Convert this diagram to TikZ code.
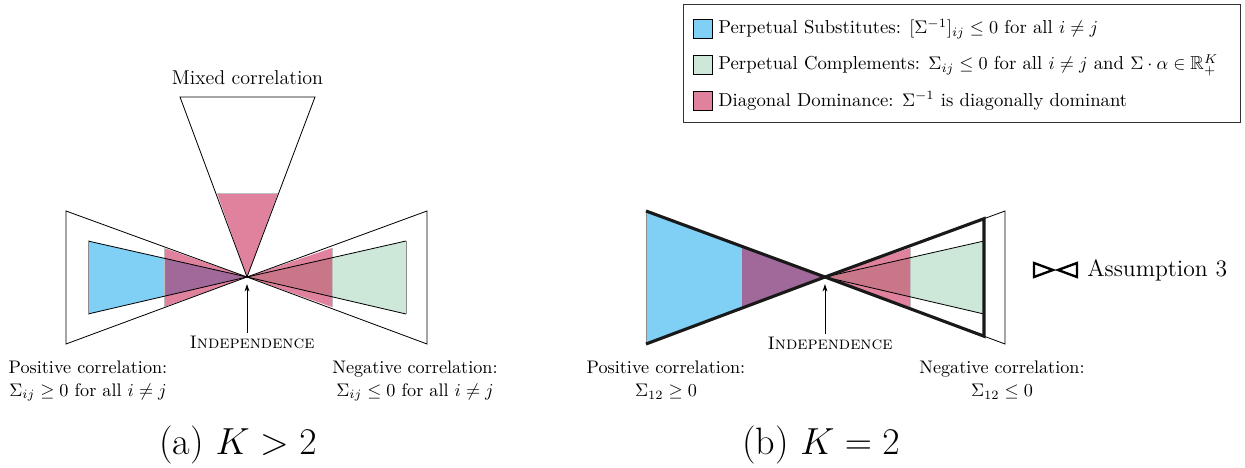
\documentclass[tikz,border=0pt]{standalone}
\usepackage{amssymb}
\usetikzlibrary{arrows.meta}
\definecolor{cblue}{RGB}{128,208,245}
\definecolor{cgreen}{RGB}{205,232,217}
\definecolor{cpink}{RGB}{224,130,157}
\definecolor{cpurple}{RGB}{160,105,154}
\definecolor{cmauve}{RGB}{201,118,137}
\tikzset{
  thinline/.style={draw=black,line width=0.45pt,line join=miter},
  thickline/.style={draw=black!90,line width=1.7pt,line join=miter},
  lbl/.style={align=center,inner sep=0pt,font=\fontsize{10}{12.5}\selectfont},
  biglbl/.style={align=center,inner sep=0pt,font=\fontsize{11}{13}\selectfont},
  captxt/.style={inner sep=0pt,font=\fontsize{21}{24}\selectfont},
  indarrow/.style={-{Stealth[length=4pt,width=2.6pt]},line width=0.45pt,shorten >=3.9pt,shorten <=1.5pt},
  legsq/.style={draw=black,line width=0.5pt,minimum width=10.5pt,minimum height=10.5pt,inner sep=0pt},
  legtxt/.style={anchor=west,inner sep=0pt,font=\fontsize{10.3}{12.5}\selectfont},
}
\begin{document}
\begin{tikzpicture}[x=0.55pt,y=-0.55pt]
\useasboundingbox (0,0) rectangle (1245,468);
% ================= Panel (a) =================
\coordinate (ca) at (247,277);
% fills
\fill[cblue] (88,241) -- (88,314) -- (ca) -- cycle;
\fill[cgreen] (406,241) -- (406,314) -- (ca) -- cycle;
\fill[cpink] (164,248) -- (164,307) -- (ca) -- cycle;
\fill[cpink] (332,248) -- (332,307) -- (ca) -- cycle;
\fill[cpink] (217,193) -- (278,193) -- (ca) -- cycle;
\begin{scope}
  \clip (88,241) -- (88,314) -- (ca) -- cycle;
  \fill[cpurple] (164,248) -- (164,307) -- (ca) -- cycle;
\end{scope}
\begin{scope}
  \clip (406,241) -- (406,314) -- (ca) -- cycle;
  \fill[cmauve] (332,248) -- (332,307) -- (ca) -- cycle;
\end{scope}
\draw[black!25,line width=0.4pt] (164,248) -- (164,307) (332,248) -- (332,307) (217,193) -- (278,193);
% outlines
\draw[thinline] (66,211) -- (66,344) -- (ca) -- cycle;
\draw[thinline] (427,211) -- (427,344) -- (ca) -- cycle;
\draw[thinline] (180,97) -- (315,97) -- (ca) -- cycle;
\draw[thinline] (ca) -- (88,241) (ca) -- (88,314);
\draw[black!45,line width=0.5pt] (88,241) -- (88,314);
\draw[thinline] (ca) -- (406,241) (ca) -- (406,314);
\draw[black!45,line width=0.5pt] (406,241) -- (406,314);
% labels
\node[biglbl] (mixa) at (247.5,78) {Mixed correlation};
\node[lbl] (inda) at (252,342) {\textsc{Independence}};
\draw[indarrow] (inda.north -| ca) -- (ca);
\node[lbl] (posa) at (88,381) {Positive correlation:\\ $\Sigma_{ij}\geq 0$ for all $i\neq j$};
\node[lbl] (nega) at (415,381) {Negative correlation:\\ $\Sigma_{ij}\leq 0$ for all $i\neq j$};
\node[captxt] (capa) at (238,445) {(a) $K>2$};
% ================= Panel (b) =================
\coordinate (cb) at (825,277);
\fill[cblue] (646,211) -- (646,344) -- (cb) -- cycle;
\fill[cgreen] (984,241) -- (984,314) -- (cb) -- cycle;
\fill[cpink] (910,248) -- (910,307) -- (cb) -- cycle;
\begin{scope}
  \clip (646,211) -- (646,344) -- (cb) -- cycle;
  \fill[cpurple] (742,248) -- (742,307) -- (cb) -- cycle;
\end{scope}
\begin{scope}
  \clip (984,241) -- (984,314) -- (cb) -- cycle;
  \fill[cmauve] (910,248) -- (910,307) -- (cb) -- cycle;
\end{scope}
\draw[black!25,line width=0.4pt] (910,248) -- (910,307);
\draw[thinline] (1005,211) -- (1005,344) -- (cb) -- cycle;
\draw[thinline] (cb) -- (984,241) (cb) -- (984,314);
\draw[black!45,line width=0.5pt] (646,211) -- (646,344);
\draw[thickline] (646,211) -- (cb) -- (646,344);
\draw[thickline] (cb) -- (984,218.7) -- (984,336.2) -- cycle;
\node[lbl] (indb) at (830,343) {\textsc{Independence}};
\draw[indarrow] (indb.north -| cb) -- (cb);
\node[lbl] (posb) at (666,380) {Positive correlation:\\ $\Sigma_{12}\geq 0$};
\node[lbl] (negb) at (1002,380) {Negative correlation:\\ $\Sigma_{12}\leq 0$};
\node[captxt] (capb) at (821,445) {(b) $K=2$};
% Assumption 3 marker
\draw[line width=1.3pt,line join=miter] (1034,263) -- (1034,277) -- (1053,270) -- cycle;
\draw[line width=1.3pt,line join=miter] (1077,263) -- (1077,277) -- (1058,270) -- cycle;
\node[anchor=west,inner sep=0pt,font=\fontsize{13}{15}\selectfont] (asm) at (1087,270) {Assumption 3};
% ================= Legend =================
\node[draw=black!80,line width=0.6pt,minimum width=557*0.55pt,minimum height=118*0.55pt,inner sep=0pt,anchor=north west] (leg) at (683,4) {};
\node[legsq,fill=cblue] (sq1) at (702.5,29) {};
\node[legsq,fill=cgreen] (sq2) at (702.5,65) {};
\node[legsq,fill=cpink] (sq3) at (702.5,101) {};
\node[legtxt] (t1) at (718,29) {Perpetual Substitutes: $[\Sigma^{-1}]_{ij}\leq 0$ for all $i\neq j$};
\node[legtxt] (t2) at (718,65) {Perpetual Complements: $\Sigma_{ij}\leq 0$ for all $i\neq j$ and $\Sigma\cdot\alpha\in\mathbb{R}_+^K$};
\node[legtxt] (t3) at (718,101) {Diagonal Dominance: $\Sigma^{-1}$ is diagonally dominant};
\end{tikzpicture}
\end{document}
